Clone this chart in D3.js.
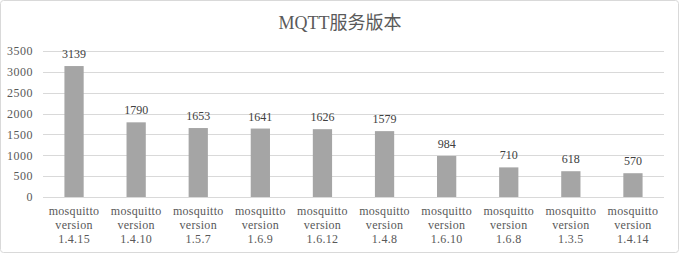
<!DOCTYPE html>
<html>
<head>
<meta charset="utf-8">
<script src="https://cdn.jsdelivr.net/npm/d3@7/dist/d3.min.js"></script>
<style>
body{margin:0;background:#fff;}
svg{display:block;font-family:"Liberation Serif","DejaVu Serif",serif;}
</style>
</head>
<body>
<svg id="chart" width="679" height="254"></svg>
<script>
var categories=["1.4.15","1.4.10","1.5.7","1.6.9","1.6.12","1.4.8","1.6.10","1.6.8","1.3.5","1.4.14"];
var counts=[3139,1790,1653,1641,1626,1579,984,710,618,570];
var yTicks=[0,500,1000,1500,2000,2500,3000,3500];
var title="MQTT服务版本";

var svg=d3.select("#chart");
var W=679,H=254;
var plotLeft=43,plotRight=664,plotTop=51,plotBottom=197;

svg.append("rect")
	.attr("x",0.5).attr("y",0.5)
	.attr("width",W-1).attr("height",H-2)
	.attr("rx",3)
	.attr("fill","#fff")
	.attr("stroke","#d9d9d9");

var x=d3.scaleBand().domain(categories).range([plotLeft,plotRight]).paddingInner(0.69).paddingOuter(0.345);
var y=d3.scaleLinear().domain([0,3500]).range([plotBottom,plotTop]);

//gridlines
svg.append("g").selectAll("line").data(yTicks).join("line")
	.attr("x1",plotLeft).attr("x2",plotRight)
	.attr("y1",function(d){return Math.round(y(d))+0.5;})
	.attr("y2",function(d){return Math.round(y(d))+0.5;})
	.attr("stroke","#d9d9d9");

//y axis labels
var yAxis=d3.axisLeft(y).tickValues(yTicks).tickSize(0).tickPadding(0).tickFormat(d3.format("d"));
var gy=svg.append("g").attr("transform","translate(33,0)").call(yAxis);
gy.select(".domain").remove();
gy.selectAll("text").attr("font-size",12).attr("fill","#595959")
	.attr("font-family","'Liberation Serif',serif").attr("letter-spacing","0.5px");

//bars
svg.append("g").selectAll("rect").data(counts).join("rect")
	.attr("x",function(d,i){return x(categories[i]);})
	.attr("y",function(d){return y(d);})
	.attr("width",x.bandwidth())
	.attr("height",function(d){return y(0)-y(d);})
	.attr("fill","#a5a5a5");

//value labels
svg.append("g").selectAll("text").data(counts).join("text")
	.attr("x",function(d,i){return x(categories[i])+x.bandwidth()/2;})
	.attr("y",function(d){return y(d)-8;})
	.attr("text-anchor","middle")
	.attr("font-size",12)
	.attr("fill","#404040")
	.text(function(d){return d;});

//category labels, three lines each
var gx=svg.append("g").selectAll("text").data(categories).join("text")
	.attr("text-anchor","middle")
	.attr("font-size",12)
	.attr("fill","#595959")
	.attr("letter-spacing","0.3px");
var lines=["mosquitto","version"];
gx.each(function(d){
	var t=d3.select(this);
	var cx=x(d)+x.bandwidth()/2;
	lines.concat([d]).forEach(function(s,k){
		t.append("tspan").attr("x",cx).attr("y",215+k*14).text(s);
	});
});

//title
svg.append("text")
	.attr("x",340).attr("y",29)
	.attr("text-anchor","middle")
	.attr("font-size",18)
	.attr("fill","#595959")
	.attr("font-family","'Liberation Serif','Noto Sans CJK SC',serif")
	.text(title);
</script>
</body>
</html>
